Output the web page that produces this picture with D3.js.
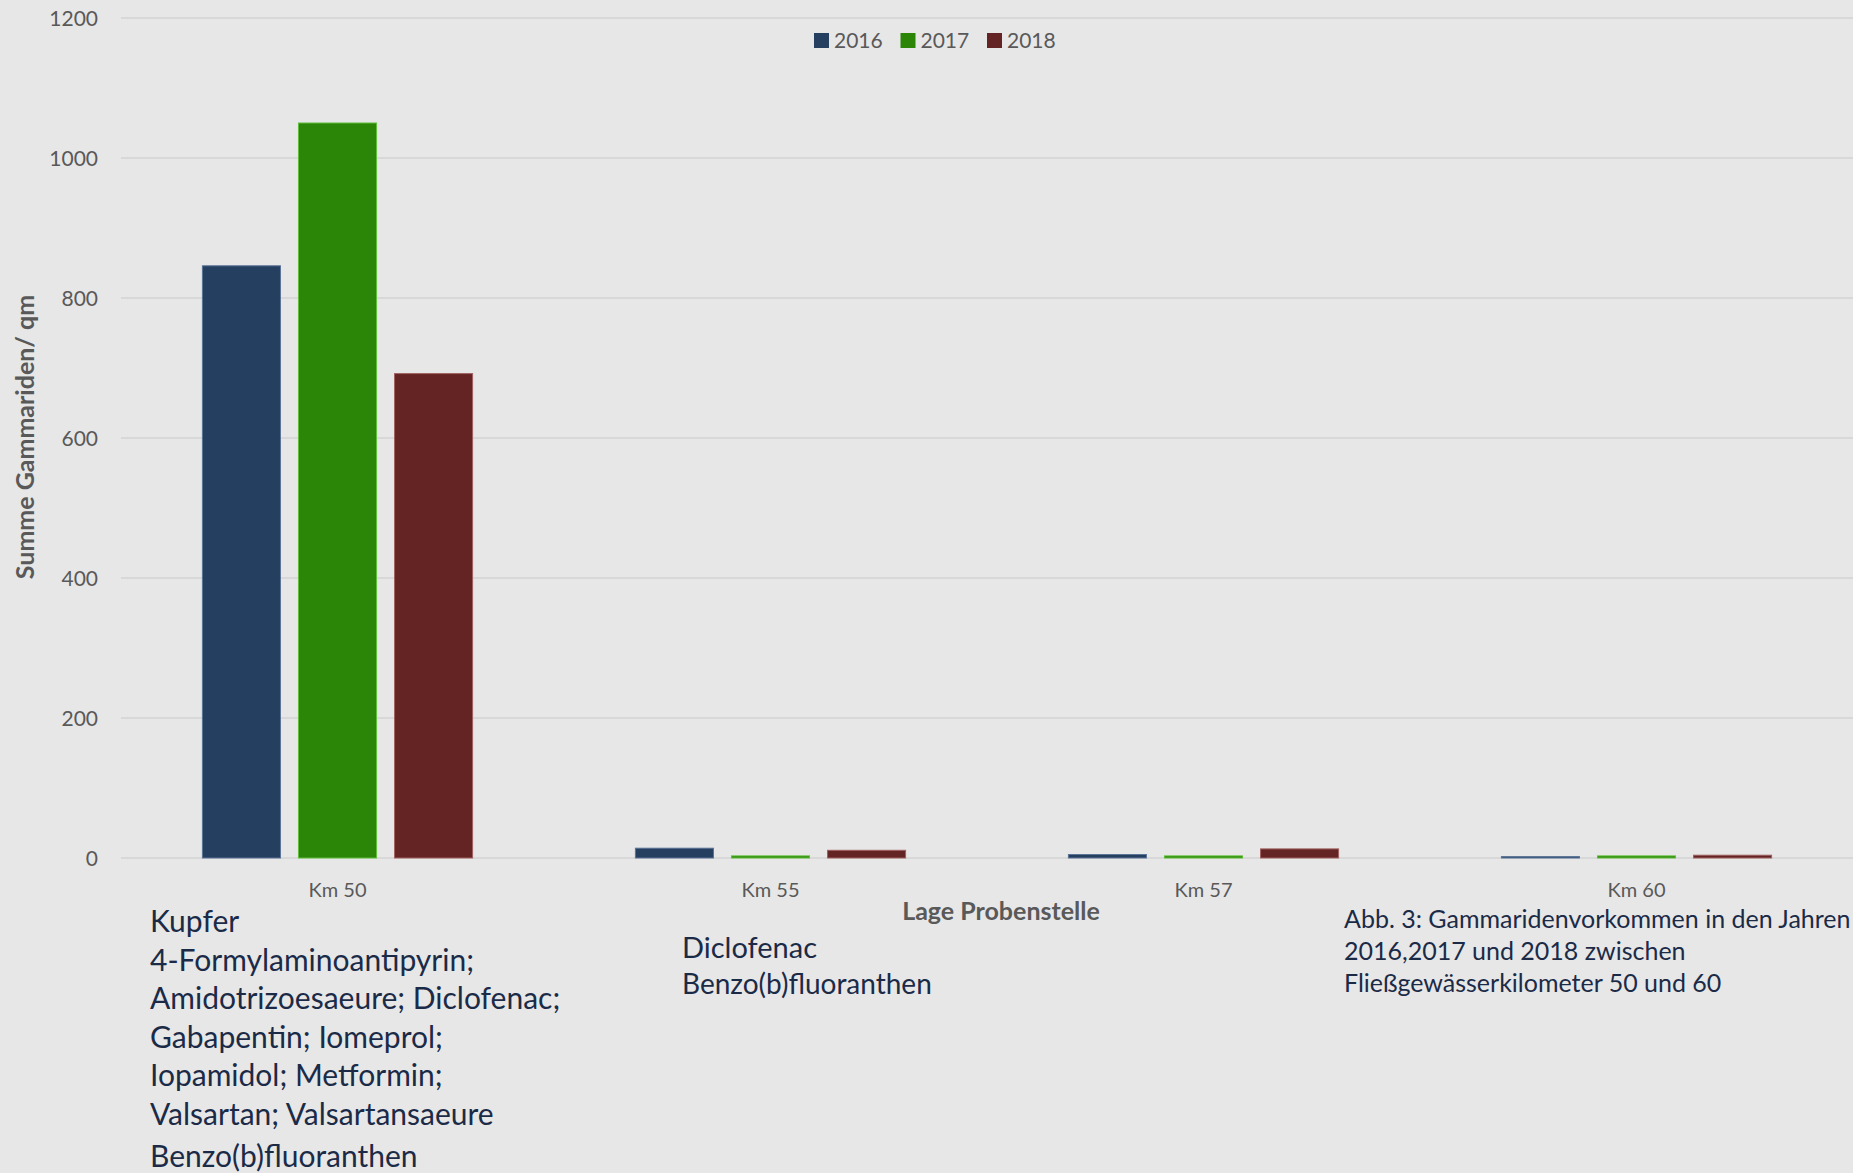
<!DOCTYPE html>
<html>
<head>
<meta charset="utf-8">
<script src="https://cdn.jsdelivr.net/npm/d3@7"></script>
<style>
  body { margin: 0; background: #e7e7e7; }
  text { font-family: Lato, "Open Sans", sans-serif; }
</style>
</head>
<body>
<script>
// data
var sites = ["Km 50", "Km 55", "Km 57", "Km 60"];
var years = ["2016", "2017", "2018"];
var v2016 = [846, 14, 5, 2];
var v2017 = [1050, 3, 3, 3];
var v2018 = [692, 11, 13, 4];
var yTicks = [0, 200, 400, 600, 800, 1000, 1200];

var noteLeft = ["Kupfer", "4-Formylaminoantipyrin;", "Amidotrizoesaeure; Diclofenac;",
    "Gabapentin; Iomeprol;", "Iopamidol; Metformin;", "Valsartan; Valsartansaeure"];
var noteLeft2 = "Benzo(b)fluoranthen";
var noteMid = "Diclofenac";
var noteMid2 = "Benzo(b)fluoranthen";
var caption = ["Abb. 3: Gammaridenvorkommen in den Jahren", "2016,2017 und 2018 zwischen",
    "Fließgewässerkilometer 50 und 60"];

var width = 1853, height = 1173;
// plot area (note: "top" is taken by window.top)
var pLeft = 121, pRight = 1853, pTop = 18, pBottom = 858;
var colors = { "2016": "#243f60", "2017": "#2b8507", "2018": "#632423" };
var strokes = { "2016": "#5a7396", "2017": "#5fbf3a", "2018": "#a06060" };

var svg = d3.select("body").append("svg")
    .attr("width", width)
    .attr("height", height);

svg.append("rect").attr("width", width).attr("height", height).attr("fill", "#e7e7e7");

var y = d3.scaleLinear().domain([0, 1200]).range([pBottom, pTop]);
var x0 = d3.scaleBand().domain(sites).range([pLeft, pRight])
    .paddingInner(0.376).paddingOuter(0.188);
var x1 = d3.scaleBand().domain(years).range([0, x0.bandwidth()]).paddingInner(0.1875);

// gridlines + tick labels
svg.append("g").selectAll("line")
    .data(yTicks)
    .enter().append("line")
    .attr("x1", pLeft).attr("x2", pRight)
    .attr("y1", d => y(d)).attr("y2", d => y(d))
    .attr("stroke", "#d8d8d8")
    .attr("stroke-width", 2);

svg.append("g").selectAll("text")
    .data(yTicks)
    .enter().append("text")
    .attr("x", 98).attr("y", d => y(d))
    .attr("dy", "0.36em")
    .attr("text-anchor", "end")
    .attr("font-size", 21)
    .attr("fill", "#595959")
    .text(d => d);

// bars
var rows = sites.map(function (s, i) {
    return { site: s, vals: [["2016", v2016[i]], ["2017", v2017[i]], ["2018", v2018[i]]] };
});
var groups = svg.append("g").selectAll("g")
    .data(rows)
    .enter().append("g")
    .attr("transform", d => "translate(" + x0(d.site) + ",0)");
groups.selectAll("rect")
    .data(d => d.vals)
    .enter().append("rect")
    .attr("x", d => x1(d[0]))
    .attr("width", x1.bandwidth())
    .attr("y", d => y(d[1]))
    .attr("height", d => pBottom - y(d[1]))
    .attr("fill", d => colors[d[0]])
    .attr("stroke", d => strokes[d[0]])
    .attr("stroke-width", 1);

// category labels
svg.append("g").selectAll("text")
    .data(sites)
    .enter().append("text")
    .attr("x", d => x0(d) + x0.bandwidth() / 2)
    .attr("y", 897)
    .attr("text-anchor", "middle")
    .attr("font-size", 20)
    .attr("fill", "#595959")
    .text(d => d);

// axis titles
svg.append("text")
    .attr("x", 1001).attr("y", 920)
    .attr("text-anchor", "middle")
    .attr("font-size", 25).attr("font-weight", "bold")
    .attr("fill", "#595959")
    .text("Lage Probenstelle");

svg.append("text")
    .attr("transform", "translate(34,437) rotate(-90)")
    .attr("text-anchor", "middle")
    .attr("font-size", 25).attr("font-weight", "bold")
    .attr("fill", "#595959")
    .text("Summe Gammariden/ qm");

// legend
var legend = svg.append("g").selectAll("g")
    .data(years)
    .enter().append("g")
    .attr("transform", (d, i) => "translate(" + (814 + i * 86.5) + ",33)");
legend.append("rect")
    .attr("width", 15).attr("height", 15)
    .attr("fill", d => colors[d]);
legend.append("text")
    .attr("x", 20).attr("y", 15)
    .attr("font-size", 21)
    .attr("fill", "#595959")
    .text(d => d);

// notes under the chart
var navy = "#1b2b47";
svg.append("g").selectAll("text")
    .data(noteLeft)
    .enter().append("text")
    .attr("x", 150)
    .attr("y", (d, i) => 932 + i * 38.5)
    .attr("font-size", 30)
    .attr("fill", navy)
    .text(d => d);
svg.append("text")
    .attr("x", 150).attr("y", 1167)
    .attr("font-size", 30).attr("fill", navy)
    .text(noteLeft2);

svg.append("text")
    .attr("x", 682).attr("y", 958)
    .attr("font-size", 29).attr("fill", navy)
    .text(noteMid);
svg.append("text")
    .attr("x", 682).attr("y", 994)
    .attr("font-size", 28).attr("fill", navy)
    .text(noteMid2);

svg.append("g").selectAll("text")
    .data(caption)
    .enter().append("text")
    .attr("x", 1344)
    .attr("y", (d, i) => 928 + i * 32)
    .attr("font-size", 25)
    .attr("fill", navy)
    .text(d => d);
</script>
</body>
</html>
